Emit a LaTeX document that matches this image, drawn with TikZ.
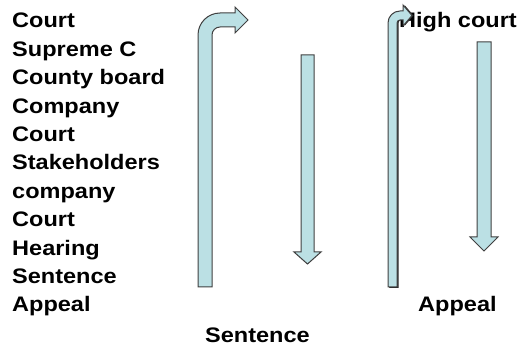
\documentclass[tikz,border=0pt]{standalone}
\usepackage{fontspec}
\setmainfont[FakeStretch=1.12]{Liberation Sans}
\definecolor{shaftblue}{RGB}{187,224,228}
\definecolor{shaftline}{RGB}{64,64,64}

\begin{document}
\begin{tikzpicture}[x=1pt,y=-1pt,
  lab/.style={anchor=base west,inner sep=0pt,font=\bfseries\fontsize{21}{25}\selectfont},
  blockarrow/.style={fill=shaftblue,draw=shaftline,line width=1pt,line join=miter}]
\useasboundingbox (0,0) rectangle (523,350);
\foreach \i/\lab in {0/Court,1/Supreme C,2/County board,3/Company,4/Court,5/Stakeholders,6/company,7/Court,8/Hearing,9/Sentence,10/Appeal}{\node[lab] (row\i) at (12,{28+28.4*\i}){\lab};}
\node[lab] (high) at (399,28){High court};
\node[lab] (appeal) at (418,312){Appeal};
\node[lab] (sentence) at (205,343){Sentence};
% bent arrows
\path[blockarrow] (198,287)--(198,35) arc[start angle=180,end angle=270,radius=22]--(235,13)--(235,7)--(248,20)--(235,33)--(235,27)--(220,27) arc[start angle=270,end angle=180,radius=8]--(212,287)--cycle;
\fill[black!85] (389.5,287)--(389.5,23) arc[start angle=180,end angle=270,radius=12]--(404.5,11)--(404.5,5)--(413.5,15.5)--(404.5,26)--(404.5,20)--(401.5,20) arc[start angle=270,end angle=180,radius=3]--(398.5,288)--(389,288)--cycle;
\path[blockarrow] (388,287)--(388,23) arc[start angle=180,end angle=270,radius=12]--(403,11)--(403,5)--(412,15.5)--(403,26)--(403,20)--(400,20) arc[start angle=270,end angle=180,radius=3]--(397,287)--cycle;
% down arrows
\path[blockarrow] (301,55)--(314,55)--(314,252)--(321,252)--(307.5,264)--(294,252)--(301,252)--cycle;
\path[blockarrow] (477,42)--(491,42)--(491,237)--(498,237)--(484,251)--(470,237)--(477,237)--cycle;
\end{tikzpicture}
\end{document}
